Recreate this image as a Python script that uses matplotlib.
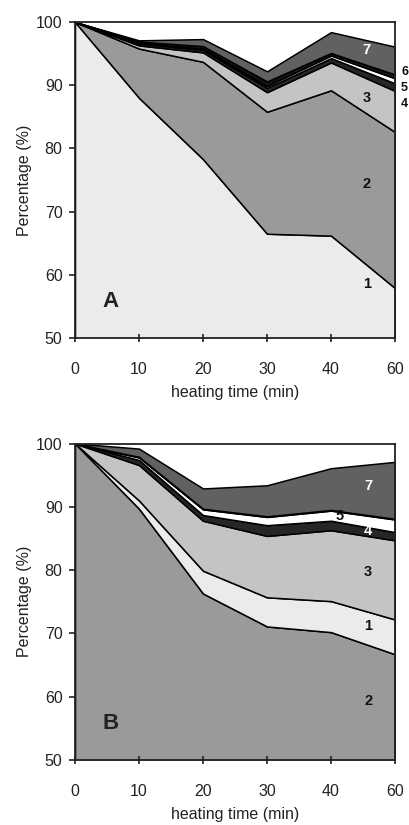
import matplotlib
matplotlib.use("Agg")
import matplotlib.pyplot as plt
import numpy as np

plt.rcParams["font.family"] = ["Liberation Sans", "DejaVu Sans"]

# heating time categories (evenly spaced on the axis)
TIMES = ["0", "10", "20", "30", "40", "60"]

# panel A, share of each fraction (%), stacked bottom to top: 1..7
A_1 = [100, 88.0, 78.3, 66.5, 66.2, 57.9]
A_2 = [0, 7.8, 15.4, 19.3, 23.0, 24.7]
A_3 = [0, 0.5, 1.5, 3.1, 4.4, 6.5]
A_4 = [0, 0.3, 0.4, 0.7, 0.7, 1.2]
A_5 = [0, 0.1, 0.2, 0.3, 0.4, 0.8]
A_6 = [0, 0.2, 0.4, 0.7, 0.4, 0.6]
A_7 = [0, 0.2, 1.1, 1.6, 3.3, 4.4]

# panel B, stacked bottom to top: 2, 1, 3, 4, 5, 6, 7
B_2 = [100, 89.7, 76.3, 71.1, 70.2, 66.7]
B_1 = [0, 1.3, 3.6, 4.6, 4.9, 5.5]
B_3 = [0, 5.6, 7.9, 9.7, 11.2, 12.5]
B_4 = [0, 0.8, 0.9, 1.7, 1.5, 1.3]
B_5 = [0, 0.4, 0.9, 1.3, 1.6, 2.0]
B_6 = [0, 0.1, 0.1, 0.1, 0.1, 0.1]
B_7 = [0, 1.3, 3.2, 4.9, 6.6, 9.0]

COL = {
    "1": "#ebebeb",
    "2": "#9a9a9a",
    "3": "#c4c4c4",
    "4": "#262626",
    "5": "#ffffff",
    "6": "#141414",
    "7": "#616161",
}


def draw_panel(ax, series, keys, letter, labels):
    x = np.arange(len(TIMES))
    ax.stackplot(x, *series, colors=[COL[k] for k in keys],
                 edgecolor="black", linewidth=1.1)
    ax.set_xlim(0, len(TIMES) - 1)
    ax.set_ylim(50, 100)
    ax.set_xticks(x)
    ax.set_xticklabels(TIMES)
    ax.set_yticks(range(50, 101, 10))
    ax.tick_params(axis="x", direction="inout", length=6, width=1.2,
                   pad=14, labelsize=11.5, colors="#222222")
    ax.tick_params(axis="y", direction="out", length=4, width=1.2,
                   pad=5, labelsize=11.5, colors="#222222")
    for s in ax.spines.values():
        s.set_linewidth(1.3)
        s.set_color("#222222")
    ax.set_xlabel("heating time (min)", fontsize=11.5, color="#222222",
                  labelpad=6)
    ax.set_ylabel("Percentage (%)", fontsize=11.5, color="#222222",
                  labelpad=3)
    ax.text(0.55, 55.8, letter, fontsize=16, fontweight="bold",
            ha="center", va="center", color="#222222")
    for txt, xx, yy, c in labels:
        ax.text(xx, yy, txt, fontsize=10.5, fontweight="bold",
                ha="center", va="center", color=c)


fig = plt.figure(figsize=(4.09, 8.25), dpi=100)
axA = fig.add_axes([0.1834, 0.5903, 0.7824, 0.3830])
axB = fig.add_axes([0.1834, 0.0788, 0.7824, 0.3836])

draw_panel(axA, [A_1, A_2, A_3, A_4, A_5, A_6, A_7],
           ["1", "2", "3", "4", "5", "6", "7"], "A",
           [("7", 4.56, 95.6, "white"), ("3", 4.56, 88.0, "#111111"),
            ("2", 4.56, 74.4, "#111111"), ("1", 4.57, 58.5, "#111111")])

draw_panel(axB, [B_2, B_1, B_3, B_4, B_5, B_6, B_7],
           ["2", "1", "3", "4", "5", "6", "7"], "B",
           [("7", 4.58, 93.3, "white"), ("5", 4.14, 88.5, "#111111"),
            ("4", 4.58, 86.2, "white"), ("3", 4.58, 79.7, "#111111"),
            ("1", 4.58, 71.2, "#111111"), ("2", 4.58, 59.3, "#111111")])

# labels of the thin layers in A sit just outside the frame
for txt, ypx in [("6", 72), ("5", 88), ("4", 104)]:
    fig.text(401 / 409, 1 - ypx / 825, txt, fontsize=9,
             fontweight="bold", ha="left", va="center", color="#111111")

fig.savefig("out.png", dpi=100)
